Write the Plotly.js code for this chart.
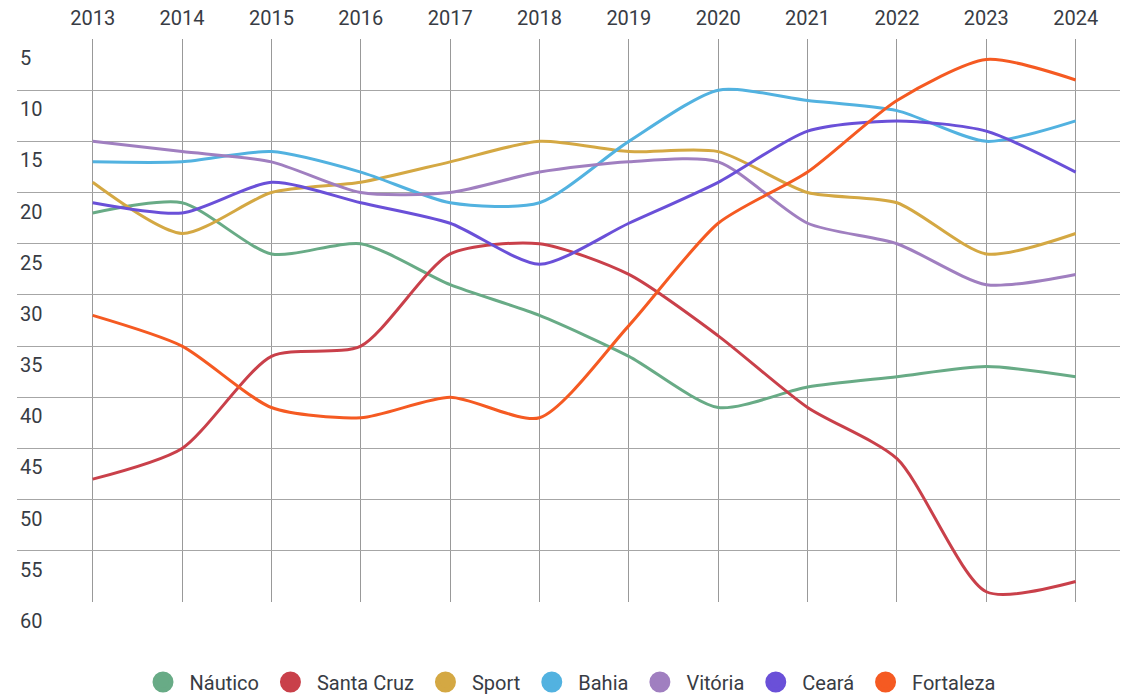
<!DOCTYPE html>
<html>
<head>
<meta charset="utf-8">
<script src="https://cdn.plot.ly/plotly-3.0.1.min.js"></script>
<style>html,body{margin:0;padding:0;background:#fff;}#chart{width:1130px;height:696px;}</style>
</head>
<body>
<div id="chart"></div>
<script>
var years = [2013, 2014, 2015, 2016, 2017, 2018, 2019, 2020, 2021, 2022, 2023, 2024];
var nautico    = [22, 21, 26, 25, 29, 32, 36, 41, 39, 38, 37, 38];
var santaCruz  = [48, 45, 36, 35, 26, 25, 28, 34, 41, 46, 59, 58];
var sport      = [19, 24, 20, 19, 17, 15, 16, 16, 20, 21, 26, 24];
var bahia      = [17, 17, 16, 18, 21, 21, 15, 10, 11, 12, 15, 13];
var vitoria    = [15, 16, 17, 20, 20, 18, 17, 17, 23, 25, 29, 28];
var ceara      = [21, 22, 19, 21, 23, 27, 23, 19, 14, 13, 14, 18];
var fortaleza  = [32, 35, 41, 42, 40, 42, 33, 23, 18, 11, 7, 9];
var yTicks = [5, 10, 15, 20, 25, 30, 35, 40, 45, 50, 55, 60];

var seriesNames = ['Náutico', 'Santa Cruz', 'Sport', 'Bahia', 'Vitória', 'Ceará', 'Fortaleza'];
var seriesData = [nautico, santaCruz, sport, bahia, vitoria, ceara, fortaleza];
var seriesColors = ['#68AB86', '#C9404A', '#D4A843', '#52B2E0', '#A07FC0', '#6A50D8', '#F55A22'];

var traces = [];
seriesNames.forEach(function (name, i) {
  traces.push({
    type: 'scatter', mode: 'lines', name: name, x: years, y: seriesData[i],
    line: {color: seriesColors[i], width: 3, shape: 'spline', smoothing: 0.7},
    showlegend: false, legendgroup: name, hoverinfo: 'x+y+name'
  });
});
seriesNames.forEach(function (name, i) {
  traces.push({
    type: 'scatter', mode: 'markers', name: name, x: [null], y: [null],
    marker: {color: seriesColors[i], size: 16, symbol: 'circle', line: {color: seriesColors[i], width: 5}},
    showlegend: true, legendgroup: name
  });
});

var textColor = '#383c44';
var layout = {
  width: 1130, height: 696,
  margin: {l: 17, r: 10, t: 39, b: 94, pad: 0, autoexpand: false},
  paper_bgcolor: '#fff', plot_bgcolor: '#fff',
  font: {family: 'Roboto, sans-serif', color: textColor},
  showlegend: true,
  xaxis: {
    type: 'linear', side: 'top', range: [2012.153, 2024.496],
    tickmode: 'array', tickvals: years, ticktext: years.map(String),
    showgrid: true, gridcolor: '#999', gridwidth: 1,
    zeroline: false, showline: false, ticks: '', ticklabelstandoff: 9,
    tickfont: {family: 'Roboto, sans-serif', size: 20, color: textColor},
    fixedrange: true, automargin: false
  },
  yaxis: {
    range: [60, 5], tickmode: 'array', tickvals: yTicks, ticktext: yTicks.map(String),
    showgrid: true, gridcolor: '#a6a6a6', gridwidth: 1,
    zeroline: false, showline: false, ticks: '',
    ticklabelposition: 'inside bottom', ticklabeloverflow: 'allow', ticklabelstandoff: 0,
    ticklabelshift: -5,
    tickfont: {family: 'Roboto, sans-serif', size: 20, color: textColor},
    fixedrange: true, automargin: false
  },
  legend: {
    orientation: 'h', x: 0.5, xanchor: 'center', xref: 'paper',
    y: 0.0201, yanchor: 'middle', yref: 'container',
    itemwidth: 43,
    font: {family: 'Roboto, sans-serif', size: 20, color: textColor},
    itemclick: false, itemdoubleclick: false
  }
};

Plotly.newPlot('chart', traces, layout, {displayModeBar: false});
</script>
</body>
</html>
